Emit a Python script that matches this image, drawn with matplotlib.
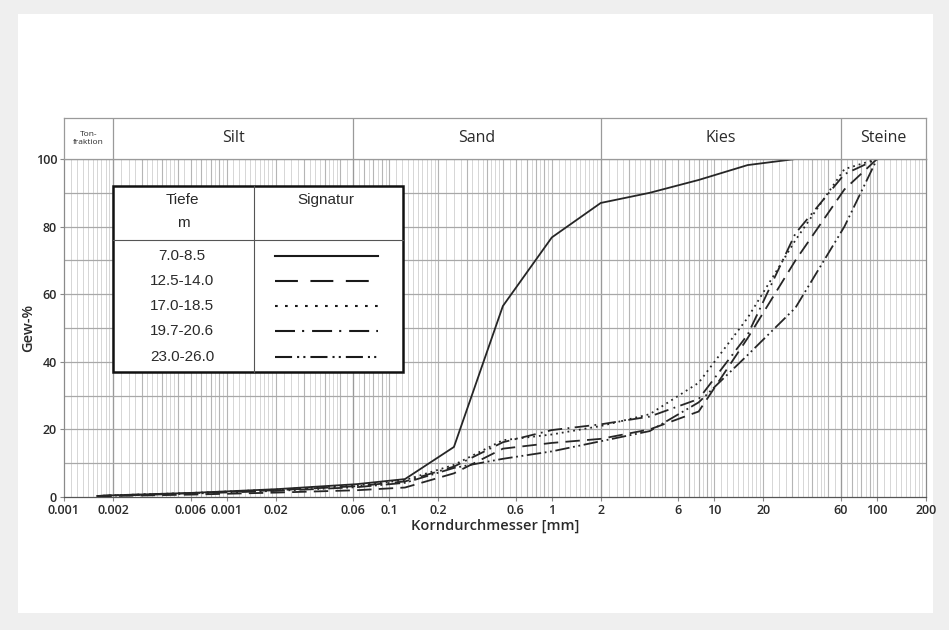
import numpy as np
import matplotlib
matplotlib.use("Agg")
import matplotlib.pyplot as plt
from matplotlib.patches import Rectangle

# ---------------- data ----------------
sizes = [0.0016, 0.002, 0.006, 0.02, 0.063, 0.125, 0.25, 0.5, 1, 2, 4, 8, 16, 31.5, 63, 100]
s_7_0_8_5 = [0.3, 0.5, 1.2, 2.3, 3.8, 5.3, 14.8, 56.5, 76.8, 87.0, 90.0, 93.8, 98.2, 100, 100, 100]
s_12_5_14_0 = [0.2, 0.3, 0.7, 1.3, 2.0, 2.8, 7.0, 14.3, 16.0, 17.2, 20.0, 25.3, 47.0, 70.0, 91.0, 100]
s_17_0_18_5 = [0.3, 0.5, 1.2, 2.2, 3.4, 5.0, 9.5, 16.8, 18.5, 21.0, 24.5, 33.8, 53.0, 76.0, 97.0, 100]
s_19_7_20_6 = [0.3, 0.5, 1.1, 2.0, 3.2, 4.6, 9.0, 16.2, 19.8, 21.5, 23.8, 29.0, 48.0, 78.0, 95.5, 100]
s_23_0_26_0 = [0.3, 0.4, 1.0, 1.8, 2.9, 4.2, 8.6, 11.3, 13.5, 16.5, 19.5, 28.0, 42.0, 56.0, 80.0, 100]

depth_labels = ["7.0-8.5", "12.5-14.0", "17.0-18.5", "19.7-20.6", "23.0-26.0"]
series = [s_7_0_8_5, s_12_5_14_0, s_17_0_18_5, s_19_7_20_6, s_23_0_26_0]
styles = ["-", (0, (8, 4)), (0, (1, 2.2)), (0, (8, 3, 1, 3)), (0, (8, 2, 1, 2, 1, 2))]
legend_styles = ["-", (0, (11, 6)), (0, (1.3, 3.5)), (0, (9.6, 3.4, 1, 3.8)),
                 (0, (8.2, 2.4, 1, 2, 1, 2.4))]

xtick_vals = [0.001, 0.002, 0.006, 0.01, 0.02, 0.06, 0.1, 0.2, 0.6, 1, 2, 6, 10, 20, 60, 100, 200]
xtick_text = ["0.001", "0.002", "0.006", "0.001", "0.02", "0.06", "0.1", "0.2", "0.6", "1", "2",
              "6", "10", "20", "60", "100", "200"]
yticks = [0, 20, 40, 60, 80, 100]

band_edges = [0.001, 0.002, 0.06, 2, 60, 200]
band_names = ["Ton-\nfraktion", "Silt", "Sand", "Kies", "Steine"]

# ---------------- figure ----------------
W, H = 949, 630
fig = plt.figure(figsize=(W / 100, H / 100), dpi=100, facecolor="#efefef")
fig.patches.append(Rectangle((18 / W, 1 - 613 / H), (933 - 18) / W, (613 - 14) / H,
                             transform=fig.transFigure, facecolor="white", edgecolor="none", zorder=-10))

L, R, B, T = 64 / W, 926 / W, 1 - 497 / H, 1 - 159 / H
HT = 1 - 118 / H
ax = fig.add_axes([L, B, R - L, T - B])
axh = fig.add_axes([L, T, R - L, HT - T])

font = "Open Sans"
txtcol = "#2a2a2a"

# grid lines
xmin, xmax = 0.001, 200
fine = []
for e in range(-3, 3):
    base = 10.0 ** e
    for m in np.concatenate([np.arange(1.0, 2.0, 0.1), np.arange(2.0, 5.0, 0.25), np.arange(5.0, 10.0, 0.5)]):
        v = m * base
        if xmin < v < xmax:
            fine.append(v)
for v in fine:
    ax.axvline(v, color="#d6d6d6", lw=0.7, zorder=1)
for e in range(-3, 3):
    for m in range(1, 10):
        v = m * 10.0 ** e
        if xmin < v < xmax:
            ax.axvline(v, color="#b5b5b5", lw=0.8, zorder=1)
for v in [0.002, 0.06, 2, 60]:
    ax.axvline(v, color="#9a9a9a", lw=0.9, zorder=1)
for yv in range(10, 100, 10):
    ax.axhline(yv, color="#a8a8a8", lw=0.9, zorder=1)

# curves
for vals, ls in zip(series, styles):
    ax.plot(sizes, vals, color="#262626", lw=1.3, linestyle=ls, zorder=3)

ax.set_xscale("log")
ax.set_xlim(xmin, xmax)
ax.set_ylim(0, 100)
ax.set_xticks(xtick_vals)
ax.set_xticklabels(xtick_text)
ax.minorticks_off()
ax.set_yticks(yticks)
ax.tick_params(axis="both", labelsize=9, length=3, width=0.8, pad=2)
ax.tick_params(axis="x", colors="#888888", labelcolor=txtcol)
ax.tick_params(axis="y", colors="#888888", labelcolor=txtcol)
for lab in ax.get_xticklabels() + ax.get_yticklabels():
    lab.set_fontfamily(font)
    lab.set_fontweight("semibold")
for sp in ax.spines.values():
    sp.set_color("#8a8a8a")
    sp.set_linewidth(0.9)
ax.spines["bottom"].set_color("#555555")
ax.set_xlabel("Korndurchmesser [mm]", fontsize=10.5, family=font, fontweight="semibold",
              color=txtcol, labelpad=1)
ax.set_ylabel("Gew-%", fontsize=10.5, family=font, fontweight="semibold", color=txtcol)
ax.yaxis.set_label_coords(-0.034, 0.5)

# header band
axh.set_xscale("log")
axh.set_xlim(xmin, xmax)
axh.set_ylim(0, 1)
axh.set_xticks([])
axh.set_yticks([])
axh.minorticks_off()
for sp in axh.spines.values():
    sp.set_color("#9a9a9a")
    sp.set_linewidth(0.9)
for v in band_edges[1:-1]:
    axh.axvline(v, color="#9a9a9a", lw=0.9)
for i, name in enumerate(band_names):
    xc = np.sqrt(band_edges[i] * band_edges[i + 1])
    if i == 0:
        axh.text(xc, 0.5, name, ha="center", va="center", fontsize=6, family=font,
                 color=txtcol, linespacing=1.3)
    else:
        axh.text(xc, 0.52, name, ha="center", va="center", fontsize=11.5, family=font,
                 color=txtcol)

# legend table
tr = ax.transAxes
bx0, bx1, by0, by1 = 0.057, 0.393, 0.370, 0.920
ax.add_patch(Rectangle((bx0, by0), bx1 - bx0, by1 - by0, transform=tr, facecolor="white",
                       edgecolor="#111111", lw=1.8, zorder=5))
ax.plot([0.220, 0.220], [by0, by1], transform=tr, color="#555555", lw=0.8, zorder=6)
ax.plot([bx0, bx1], [0.760, 0.760], transform=tr, color="#555555", lw=0.8, zorder=6)
lf = "Liberation Sans"
ax.text(0.137, 0.878, "Tiefe", transform=tr, ha="center", va="center", fontsize=11,
        family=lf, color=txtcol, zorder=7)
ax.text(0.138, 0.812, "m", transform=tr, ha="center", va="center", fontsize=11,
        family=lf, color=txtcol, zorder=7)
ax.text(0.304, 0.880, "Signatur", transform=tr, ha="center", va="center", fontsize=11,
        family=lf, color=txtcol, zorder=7)
row_y = [0.713, 0.639, 0.565, 0.491, 0.414]
for lab, ls, yy in zip(depth_labels, legend_styles, row_y):
    ax.text(0.137, yy, lab, transform=tr, ha="center", va="center", fontsize=11,
            family=lf, color=txtcol, zorder=7)
    ax.plot([0.245, 0.364], [yy, yy], transform=tr, color="#1a1a1a", lw=1.5,
            linestyle=ls, zorder=7)

fig.savefig("out.png", dpi=100, facecolor=fig.get_facecolor())
